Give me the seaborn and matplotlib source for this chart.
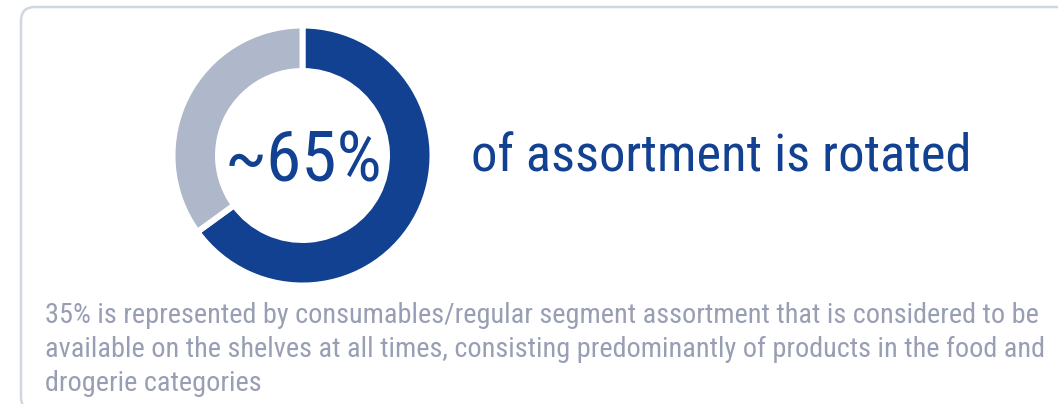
import matplotlib
matplotlib.use("Agg")
import matplotlib.pyplot as plt
from matplotlib import font_manager
from matplotlib.patches import FancyBboxPatch
import seaborn as sns

# Assortment split
segments = ["Rotated assortment", "Regular assortment"]
shares = [65, 35]

headline = "of assortment is rotated"
note_lines = [
    f"{shares[1]}% is represented by consumables/regular segment assortment that is considered to be",
    "available on the shelves at all times, consisting predominantly of products in the food and",
    "drogerie categories",
]

BLUE = "#124191"
GREY = "#aeb8ca"
NOTE = "#989eb3"
FRAME = "#d0d7e2"

sns.set_theme(style="white")


def pick_family(candidates):
    for name in candidates:
        try:
            font_manager.findfont(font_manager.FontProperties(family=name),
                                  fallback_to_default=False)
            return name
        except ValueError:
            continue
    return "DejaVu Sans"


family = pick_family(["Roboto Condensed", "Liberation Sans Narrow", "Roboto"])
plt.rcParams["font.family"] = [family, "DejaVu Sans"]

W, H = 1058, 404
fig = plt.figure(figsize=(W / 100, H / 100), dpi=100)
fig.patch.set_facecolor("white")

# Pixel-space canvas for the card frame and the text
canvas = fig.add_axes([0, 0, 1, 1])
canvas.set_xlim(0, W)
canvas.set_ylim(H, 0)
canvas.axis("off")

frame = FancyBboxPatch((21, 7), W + 40, H,
                       boxstyle="round,pad=0,rounding_size=14",
                       facecolor="white", edgecolor=FRAME, linewidth=1.8)
canvas.add_patch(frame)

# Donut
cx, cy, half = 302.5, 155.5, 132
ax_pie = fig.add_axes([(cx - half) / W, (H - cy - half) / H, 2 * half / W, 2 * half / H])
ax_pie.pie(shares, labels=None, colors=[BLUE, GREY], startangle=90, counterclock=False,
           radius=130 / half,
           wedgeprops=dict(width=45.5 / half, edgecolor="white", linewidth=4.3))
ax_pie.set_xlim(-1, 1)
ax_pie.set_ylim(-1, 1)
ax_pie.set_aspect("equal")
ax_pie.axis("off")

big = canvas.text(303, 182, f"~{shares[0]}%", ha="center", va="baseline",
                  fontsize=52, color=BLUE)
head = canvas.text(471, 172, headline, ha="left", va="baseline",
                   fontsize=41, color=BLUE)
notes = [canvas.text(45, 323 + 34 * i, line, ha="left", va="baseline",
                     fontsize=20, color=NOTE)
         for i, line in enumerate(note_lines)]

# Fit text runs to their widths
fig.canvas.draw()
renderer = fig.canvas.get_renderer()


def width_of(txt):
    return txt.get_window_extent(renderer).width


big.set_fontsize(big.get_fontsize() * 158 / width_of(big))
head.set_fontsize(head.get_fontsize() * 500 / width_of(head))
widest = max(width_of(t) for t in notes)
note_size = notes[0].get_fontsize() * 995 / widest
for t in notes:
    t.set_fontsize(note_size)

fig.savefig("out.png", dpi=100, facecolor="white")
